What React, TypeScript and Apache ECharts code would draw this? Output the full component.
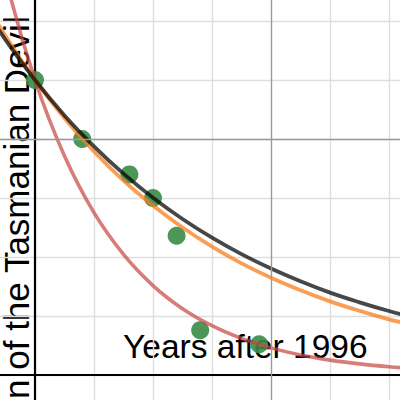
import React, { useEffect, useRef } from "react";
import * as echarts from "echarts";

const curveYears = [-2.5, -1.25, 0, 1.25, 2.5, 3.75, 5, 6.25, 7.5, 8.75, 10, 11.25, 12.5, 13.75, 15, 16.25, 17.5];
// Curve values
const blackCurve = [16.13, 14.2, 12.5, 11.0, 9.69, 8.53, 7.51, 6.61, 5.82, 5.12, 4.51, 3.97, 3.49, 3.08, 2.71, 2.38, 2.1];
const orangeCurve = [16.5, 14.36, 12.5, 10.88, 9.47, 8.24, 7.18, 6.25, 5.44, 4.73, 4.12, 3.59, 3.12, 2.72, 2.36, 2.06, 1.79];
const redCurve = [22.71, 16.85, 12.5, 9.28, 6.88, 5.11, 3.79, 2.81, 2.09, 1.55, 1.15, 0.85, 0.63, 0.47, 0.35, 0.26, 0.19];

// Observed points
const obsYears = [0, 2, 4, 5, 6, 7, 9.5];
const obsPopulation = [12.5, 10, 8.5, 7.5, 5.9, 1.9, 1.3];

const xLabel = "Years after 1996";
const yLabel = "Population of the Tasmanian Devil";

const FONT = "'Liberation Sans', Arial, Helvetica, sans-serif";

function pairs(xs: number[], ys: number[]) {
  return xs.map((x, i) => [x, ys[i]]);
}

export default function App() {
  const ref = useRef<HTMLDivElement>(null);
  useEffect(() => {
    if (!ref.current) return;
    const chart = echarts.init(ref.current, undefined, { renderer: "svg" });
    const yFont = 35;
    const option: any = {
      animation: false,
      backgroundColor: "#ffffff",
      grid: { left: -24, right: -48, top: -38, bottom: -34, containLabel: false, outerBoundsMode: "none" },
      xAxis: {
        type: "value",
        min: -2.5,
        max: 17.5,
        interval: 2.5,
        axisLabel: { show: false },
        axisTick: { show: false },
        axisLine: { show: true, onZero: true, lineStyle: { color: "#000000", width: 2.2 } },
        splitLine: { show: true, lineStyle: { color: "#dedede", width: 1.4 } },
      },
      yAxis: {
        type: "value",
        min: -2.5,
        max: 17.5,
        interval: 2.5,
        axisLabel: { show: false },
        axisTick: { show: false },
        axisLine: { show: true, onZero: true, lineStyle: { color: "#000000", width: 2.2 } },
        splitLine: { show: true, lineStyle: { color: "#dedede", width: 1.4 } },
      },
      graphic: [
        {
          type: "text",
          x: 123,
          y: 346.5,
          style: {
            text: xLabel,
            font: `33.5px ${FONT}`,
            fill: "#000000",
            textAlign: "left",
            textVerticalAlign: "middle",
          },
        },
        {
          type: "text",
          x: 16.5,
          y: 399 + 4.169 * yFont,
          rotation: Math.PI / 2,
          style: {
            text: yLabel,
            font: `${yFont}px ${FONT}`,
            fill: "#000000",
            textAlign: "left",
            textVerticalAlign: "middle",
          },
        },
      ],
      series: [
        {
          type: "line",
          data: [],
          silent: true,
          markLine: {
            silent: true,
            symbol: "none",
            label: { show: false },
            lineStyle: { color: "#9a9a9a", width: 1.3, type: "solid" },
            data: [{ xAxis: 10 }, { yAxis: 10 }],
          },
        },
        {
          type: "line",
          data: pairs(curveYears, redCurve),
          smooth: 0.4,
          showSymbol: false,
          lineStyle: { color: "#c74440", opacity: 0.7, width: 3.6 },
        },
        {
          type: "line",
          data: pairs(curveYears, orangeCurve),
          smooth: 0.4,
          showSymbol: false,
          lineStyle: { color: "#fa7e19", opacity: 0.75, width: 3.8 },
        },
        {
          type: "line",
          data: pairs(curveYears, blackCurve),
          smooth: 0.4,
          showSymbol: false,
          lineStyle: { color: "#000000", opacity: 0.72, width: 3.8 },
        },
        {
          type: "scatter",
          data: pairs(obsYears, obsPopulation),
          symbolSize: 18,
          itemStyle: { color: "#388c46", opacity: 0.9 },
        },
      ],
    };
    chart.setOption(option);
    return () => chart.dispose();
  }, []);
  return <div ref={ref} style={{ position: "absolute", left: 0, top: 0, width: 400, height: 400 }} />;
}
